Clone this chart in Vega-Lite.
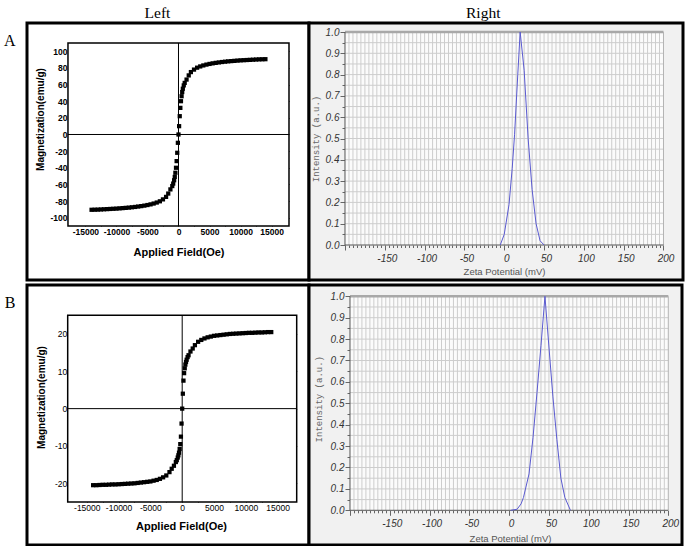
{
"$schema": "https://vega.github.io/schema/vega-lite/v6.json",
"padding": {"left": 1, "top": 4, "right": 0, "bottom": 0},
"background": "white",
"config": {"view": {"stroke": null}},
"datasets": {
"magA": [
{"H":-14000,"M":-90.5},{"H":-13500,"M":-90.4},{"H":-13000,"M":-90.3},{"H":-12500,"M":-90.1},{"H":-12000,"M":-89.9},{"H":-11500,"M":-89.7},{"H":-11000,"M":-89.5},{"H":-10500,"M":-89.3},{"H":-10000,"M":-89.1},{"H":-9500,"M":-88.8},{"H":-9000,"M":-88.5},{"H":-8500,"M":-88.2},{"H":-8000,"M":-87.9},{"H":-7500,"M":-87.5},{"H":-7000,"M":-87.1},{"H":-6500,"M":-86.6},{"H":-6000,"M":-86.1},{"H":-5500,"M":-85.5},{"H":-5000,"M":-84.8},{"H":-4500,"M":-84},{"H":-4000,"M":-83},{"H":-3500,"M":-81.8},{"H":-3000,"M":-80.3},{"H":-2500,"M":-78},{"H":-2000,"M":-75},{"H":-1650,"M":-71},{"H":-1300,"M":-66},{"H":-1000,"M":-62},{"H":-850,"M":-59},{"H":-700,"M":-55},{"H":-600,"M":-51},{"H":-500,"M":-46},{"H":-400,"M":-40},{"H":-300,"M":-32},{"H":-200,"M":-22},{"H":-100,"M":-10},{"H":0,"M":0},
{"H":100,"M":10},{"H":200,"M":22},{"H":300,"M":32},{"H":400,"M":40},{"H":500,"M":46},{"H":600,"M":51},{"H":700,"M":55},{"H":850,"M":59},{"H":1000,"M":62},{"H":1300,"M":66},{"H":1650,"M":71},{"H":2000,"M":75},{"H":2500,"M":78},{"H":3000,"M":80.3},{"H":3500,"M":81.8},{"H":4000,"M":83},{"H":4500,"M":84},{"H":5000,"M":84.8},{"H":5500,"M":85.5},{"H":6000,"M":86.1},{"H":6500,"M":86.6},{"H":7000,"M":87.1},{"H":7500,"M":87.5},{"H":8000,"M":87.9},{"H":8500,"M":88.2},{"H":9000,"M":88.5},{"H":9500,"M":88.8},{"H":10000,"M":89.1},{"H":10500,"M":89.3},{"H":11000,"M":89.5},{"H":11500,"M":89.7},{"H":12000,"M":89.9},{"H":12500,"M":90.1},{"H":13000,"M":90.3},{"H":13500,"M":90.4},{"H":14000,"M":90.5}
],
"magB": [
{"H":-14000,"M":-20.5},{"H":-13500,"M":-20.5},{"H":-13000,"M":-20.45},{"H":-12500,"M":-20.4},{"H":-12000,"M":-20.4},{"H":-11500,"M":-20.35},{"H":-11000,"M":-20.3},{"H":-10500,"M":-20.3},{"H":-10000,"M":-20.25},{"H":-9500,"M":-20.2},{"H":-9000,"M":-20.15},{"H":-8500,"M":-20.1},{"H":-8000,"M":-20.05},{"H":-7500,"M":-20},{"H":-7000,"M":-19.9},{"H":-6500,"M":-19.8},{"H":-6000,"M":-19.7},{"H":-5500,"M":-19.6},{"H":-5000,"M":-19.5},{"H":-4500,"M":-19.3},{"H":-4000,"M":-19.1},{"H":-3500,"M":-18.8},{"H":-3000,"M":-18.4},{"H":-2500,"M":-17.9},{"H":-2000,"M":-17},{"H":-1650,"M":-16.1},{"H":-1300,"M":-15.3},{"H":-1000,"M":-14.3},{"H":-850,"M":-13.8},{"H":-700,"M":-13.1},{"H":-600,"M":-12.5},{"H":-500,"M":-11.8},{"H":-400,"M":-10.8},{"H":-300,"M":-9.5},{"H":-200,"M":-7.5},{"H":-100,"M":-4},{"H":0,"M":0},
{"H":100,"M":4},{"H":200,"M":7.5},{"H":300,"M":9.5},{"H":400,"M":10.8},{"H":500,"M":11.8},{"H":600,"M":12.5},{"H":700,"M":13.1},{"H":850,"M":13.8},{"H":1000,"M":14.3},{"H":1300,"M":15.3},{"H":1650,"M":16.1},{"H":2000,"M":17},{"H":2500,"M":17.9},{"H":3000,"M":18.4},{"H":3500,"M":18.8},{"H":4000,"M":19.1},{"H":4500,"M":19.3},{"H":5000,"M":19.5},{"H":5500,"M":19.6},{"H":6000,"M":19.7},{"H":6500,"M":19.8},{"H":7000,"M":19.9},{"H":7500,"M":20},{"H":8000,"M":20.05},{"H":8500,"M":20.1},{"H":9000,"M":20.15},{"H":9500,"M":20.2},{"H":10000,"M":20.25},{"H":10500,"M":20.3},{"H":11000,"M":20.3},{"H":11500,"M":20.35},{"H":12000,"M":20.4},{"H":12500,"M":20.4},{"H":13000,"M":20.45},{"H":13500,"M":20.5},{"H":14000,"M":20.5}
],
"zetaA": [
{"mV":-5,"I":0},{"mV":0,"I":0.05},{"mV":6,"I":0.19},{"mV":10,"I":0.36},{"mV":13,"I":0.52},{"mV":17,"I":0.8},{"mV":20,"I":1.0},{"mV":25,"I":0.82},{"mV":30,"I":0.5},{"mV":35,"I":0.26},{"mV":40,"I":0.1},{"mV":45,"I":0.02},{"mV":50,"I":0}
],
"zetaB": [
{"mV":2,"I":0},{"mV":10,"I":0.005},{"mV":15,"I":0.03},{"mV":18,"I":0.06},{"mV":25,"I":0.17},{"mV":30,"I":0.34},{"mV":35,"I":0.55},{"mV":40,"I":0.77},{"mV":45,"I":1.0},{"mV":49,"I":0.81},{"mV":55,"I":0.53},{"mV":60,"I":0.33},{"mV":65,"I":0.15},{"mV":70,"I":0.06},{"mV":77,"I":0}
],
"gx": [
{"v":-195},{"v":-190},{"v":-185},{"v":-180},{"v":-175},{"v":-170},{"v":-165},{"v":-160},{"v":-155},{"v":-150},{"v":-145},{"v":-140},{"v":-135},{"v":-130},{"v":-125},{"v":-120},{"v":-115},{"v":-110},{"v":-105},{"v":-100},{"v":-95},{"v":-90},{"v":-85},{"v":-80},{"v":-75},{"v":-70},{"v":-65},{"v":-60},{"v":-55},{"v":-50},{"v":-45},{"v":-40},{"v":-35},{"v":-30},{"v":-25},{"v":-20},{"v":-15},{"v":-10},{"v":-5},{"v":0},{"v":5},{"v":10},{"v":15},{"v":20},{"v":25},{"v":30},{"v":35},{"v":40},{"v":45},{"v":50},{"v":55},{"v":60},{"v":65},{"v":70},{"v":75},{"v":80},{"v":85},{"v":90},{"v":95},{"v":100},{"v":105},{"v":110},{"v":115},{"v":120},{"v":125},{"v":130},{"v":135},{"v":140},{"v":145},{"v":150},{"v":155},{"v":160},{"v":165},{"v":170},{"v":175},{"v":180},{"v":185},{"v":190},{"v":195}
],
"gy": [
{"v":0.05},{"v":0.1},{"v":0.15},{"v":0.2},{"v":0.25},{"v":0.3},{"v":0.35},{"v":0.4},{"v":0.45},{"v":0.5},{"v":0.55},{"v":0.6},{"v":0.65},{"v":0.7},{"v":0.75},{"v":0.8},{"v":0.85},{"v":0.9},{"v":0.95}
]
},
"columns": 2,
"spacing": {"row": 5, "column": 0},
"bounds": "flush",
"concat": [
{
"width": 282, "height": 257,
"view": {"stroke": "black", "strokeWidth": 3, "fill": "white"},
"resolve": {"axis": {"x": "independent", "y": "independent"}},
"layer": [
{
"data": {"values": [{}]},
"mark": {"type": "rect", "fill": "white", "stroke": "black", "strokeWidth": 1.5},
"encoding": {
"x": {"datum": -17800, "type": "quantitative", "scale": {"domain": [-24400, 21022], "nice": false, "zero": false},
"axis": {"orient": "bottom", "offset": -54, "domain": false, "grid": false, "values": [-15000,-12500,-10000,-7500,-5000,-2500,0,2500,5000,7500,10000,12500,15000], "tickSize": -4, "tickColor": "black", "labelExpr": "datum.value % 5000 === 0 ? '' + datum.value : ''", "labelFont": "Liberation Sans Narrow, Liberation Sans", "labelFontWeight": "bold", "labelFontSize": 8.5, "labelColor": "black", "labelPadding": 5, "labelFlush": false, "labelOverlap": false, "title": "Applied Field(Oe)", "titleFont": "Liberation Sans Narrow, Liberation Sans", "titleFontWeight": "bold", "titleFontSize": 11, "titleColor": "black", "titleX": 151.5, "titleY": 29, "titleBaseline": "alphabetic", "titleAlign": "center"}},
"x2": {"datum": 17800},
"y": {"datum": -110, "type": "quantitative", "scale": {"domain": [-174.9, 134], "nice": false, "zero": false},
"axis": {"orient": "left", "offset": -41, "domain": false, "grid": false, "values": [-100,-90,-80,-70,-60,-50,-40,-30,-20,-10,0,10,20,30,40,50,60,70,80,90,100], "tickSize": -4, "tickColor": "black", "labelExpr": "datum.value % 20 === 0 ? '' + datum.value : ''", "labelFont": "Liberation Sans Narrow, Liberation Sans", "labelFontWeight": "bold", "labelFontSize": 8.5, "labelColor": "black", "labelPadding": 5, "labelFlush": false, "labelOverlap": false, "title": "Magnetization(emu/g)", "titleFont": "Liberation Sans Narrow, Liberation Sans", "titleFontWeight": "bold", "titleFontSize": 10, "titleColor": "black", "titleX": -28, "titleY": 96, "titleAngle": -90, "titleBaseline": "middle", "titleAlign": "center"}},
"y2": {"datum": 110}
}
},
{
"data": {"values": [{}]},
"mark": {"type": "rule", "color": "black", "strokeWidth": 1},
"encoding": {"x": {"datum": 0, "type": "quantitative", "axis": null}, "y": {"datum": -110, "type": "quantitative", "axis": null}, "y2": {"datum": 110}}
},
{
"data": {"values": [{}]},
"mark": {"type": "rule", "color": "black", "strokeWidth": 1},
"encoding": {"y": {"datum": 0, "type": "quantitative", "axis": null}, "x": {"datum": -17800, "type": "quantitative", "axis": null}, "x2": {"datum": 17800}}
},
{
"data": {"name": "magA"},
"mark": {"type": "point", "shape": "square", "filled": true, "color": "black", "size": 18, "opacity": 1},
"encoding": {
"x": {"field": "H", "type": "quantitative", "axis": {"orient": "top", "offset": -20, "domain": false, "grid": false, "labels": false, "tickSize": -4, "tickColor": "black", "values": [-15000,-10000,-5000,0,5000,10000,15000], "title": "Left", "titleFont": "Liberation Serif", "titleFontSize": 15.5, "titleFontWeight": "normal", "titleColor": "black", "titleX": 130, "titleY": -25.5, "titleAlign": "center", "titleBaseline": "alphabetic", "titleAngle": 0}},
"y": {"field": "M", "type": "quantitative", "axis": {"orient": "right", "offset": -20, "domain": false, "grid": false, "labels": false, "tickSize": -4, "tickColor": "black", "values": [-100,-80,-60,-40,-20,0,20,40,60,80,100], "title": "A", "titleFont": "Liberation Serif", "titleFontSize": 16, "titleFontWeight": "normal", "titleColor": "black", "titleX": -274, "titleY": 22, "titleAlign": "right", "titleBaseline": "alphabetic", "titleAngle": 0}}
}
}
]
},
{
"width": 374, "height": 257,
"view": {"stroke": "black", "strokeWidth": 3, "fill": "#f1f1f1"},
"resolve": {"axis": {"x": "independent", "y": "independent"}},
"layer": [
{
"data": {"values": [{}]},
"mark": {"type": "rect", "fill": "#fbfbfb"},
"encoding": {
"x": {"datum": -200, "type": "quantitative", "scale": {"domain": [-245.2, 224.5], "nice": false, "zero": false},
"axis": {"orient": "bottom", "offset": -35, "domain": false, "grid": false, "values": [-200,-195,-190,-185,-180,-175,-170,-165,-160,-155,-150,-145,-140,-135,-130,-125,-120,-115,-110,-105,-100,-95,-90,-85,-80,-75,-70,-65,-60,-55,-50,-45,-40,-35,-30,-25,-20,-15,-10,-5,0,5,10,15,20,25,30,35,40,45,50,55,60,65,70,75,80,85,90,95,100,105,110,115,120,125,130,135,140,145,150,155,160,165,170,175,180,185,190,195,200], "tickSize": {"condition": {"test": "datum.value % 50 === 0", "value": 5}, "value": 2.5}, "tickColor": "#666", "labelExpr": "datum.value % 50 === 0 && datum.value > -200 ? '' + datum.value : ''", "labelFont": "Liberation Sans", "labelFontStyle": "italic", "labelFontSize": 10, "labelColor": "#333", "labelPadding": 3, "labelOffset": 2, "labelFlush": false, "labelOverlap": false, "title": "Zeta Potential (mV)", "titleFont": "Liberation Sans", "titleFontSize": 9.5, "titleFontWeight": "normal", "titleColor": "#555", "titleX": 195, "titleY": 29.5, "titleBaseline": "alphabetic", "titleAlign": "center"}},
"x2": {"datum": 200},
"y": {"datum": 0, "type": "quantitative", "scale": {"domain": [-0.1643, 1.0423], "nice": false, "zero": false},
"axis": {"orient": "left", "offset": -36, "domain": false, "grid": false, "values": [0,0.05,0.1,0.15,0.2,0.25,0.3,0.35,0.4,0.45,0.5,0.55,0.6,0.65,0.7,0.75,0.8,0.85,0.9,0.95,1], "tickSize": {"condition": {"test": "abs(datum.value*10 - round(datum.value*10)) < 0.001", "value": 5}, "value": 3}, "tickColor": "#666", "labelExpr": "abs(datum.value*10 - round(datum.value*10)) < 0.001 ? format(datum.value, '.1f') : ''", "labelFont": "Liberation Sans", "labelFontStyle": "italic", "labelFontSize": 10, "labelColor": "#333", "labelPadding": 1, "labelFlush": false, "labelOverlap": false, "title": "Intensity (a.u.)", "titleFont": "Liberation Mono", "titleFontSize": 9, "titleFontWeight": "normal", "titleColor": "#666", "titleX": -29.3, "titleY": 115.5, "titleAngle": -90, "titleBaseline": "middle", "titleAlign": "center"}},
"y2": {"datum": 1}
}
},
{
"data": {"name": "gx"},
"mark": {"type": "rule", "color": "#cdcdcd", "strokeWidth": 1},
"encoding": {"x": {"field": "v", "type": "quantitative", "axis": null}, "y": {"datum": 0, "type": "quantitative", "axis": null}, "y2": {"datum": 1}}
},
{
"data": {"name": "gy"},
"mark": {"type": "rule", "color": "#cdcdcd", "strokeWidth": 1},
"encoding": {"y": {"field": "v", "type": "quantitative", "axis": null}, "x": {"datum": -200, "type": "quantitative", "axis": null}, "x2": {"datum": 200}}
},
{
"data": {"values": [{}]},
"mark": {"type": "rule", "color": "#a8a8a8", "strokeWidth": 2.5},
"encoding": {"y": {"datum": 1, "type": "quantitative", "axis": null}, "x": {"datum": -200, "type": "quantitative", "axis": {"orient": "top", "domain": false, "grid": false, "labels": false, "ticks": false, "title": "Right", "titleFont": "Liberation Serif", "titleFontSize": 15.5, "titleFontWeight": "normal", "titleColor": "black", "titleX": 173.7, "titleY": -5.5, "titleAlign": "center", "titleBaseline": "alphabetic", "titleAngle": 0}}, "x2": {"datum": 200}}
},
{
"data": {"values": [{}]},
"mark": {"type": "rule", "color": "#b4b4b4", "strokeWidth": 1},
"encoding": {"x": {"datum": 200, "type": "quantitative", "axis": null}, "y": {"datum": 0, "type": "quantitative", "axis": null}, "y2": {"datum": 1}}
},
{
"data": {"values": [{}]},
"mark": {"type": "rule", "color": "#555", "strokeWidth": 1},
"encoding": {"x": {"datum": -200, "type": "quantitative", "axis": null}, "y": {"datum": 0, "type": "quantitative", "axis": null}, "y2": {"datum": 1}}
},
{
"data": {"values": [{}]},
"mark": {"type": "rule", "color": "#555", "strokeWidth": 1},
"encoding": {"y": {"datum": 0, "type": "quantitative", "axis": null}, "x": {"datum": -200, "type": "quantitative", "axis": null}, "x2": {"datum": 200}}
},
{
"data": {"name": "zetaA"},
"mark": {"type": "line", "color": "#5a5ad0", "strokeWidth": 1},
"encoding": {"x": {"field": "mV", "type": "quantitative", "axis": null}, "y": {"field": "I", "type": "quantitative", "axis": null}}
}
]
},
{
"width": 282, "height": 260,
"view": {"stroke": "black", "strokeWidth": 3, "fill": "white"},
"resolve": {"axis": {"x": "independent", "y": "independent"}},
"layer": [
{
"data": {"values": [{}]},
"mark": {"type": "rect", "fill": "white", "stroke": "black", "strokeWidth": 1.5},
"encoding": {
"x": {"datum": -18000, "type": "quantitative", "scale": {"domain": [-24398, 19934], "nice": false, "zero": false},
"axis": {"orient": "bottom", "offset": -43, "domain": false, "grid": false, "values": [-15000,-12500,-10000,-7500,-5000,-2500,0,2500,5000,7500,10000,12500,15000], "tickSize": -4, "tickColor": "black", "labelExpr": "datum.value % 5000 === 0 ? '' + datum.value : ''", "labelFont": "Liberation Sans Narrow, Liberation Sans", "labelFontWeight": "normal", "labelFontSize": 8.5, "labelColor": "black", "labelPadding": 5, "labelFlush": false, "labelOverlap": false, "title": "Applied Field(Oe)", "titleFont": "Liberation Sans Narrow, Liberation Sans", "titleFontWeight": "bold", "titleFontSize": 11, "titleColor": "black", "titleX": 154, "titleY": 27, "titleBaseline": "alphabetic", "titleAlign": "center"}},
"x2": {"datum": 18000},
"y": {"datum": -25, "type": "quantitative", "scale": {"domain": [-36.52, 33.11], "nice": false, "zero": false},
"axis": {"orient": "left", "offset": -40.7, "domain": false, "grid": false, "values": [-20,-15,-10,-5,0,5,10,15,20], "tickSize": -4, "tickColor": "black", "labelExpr": "datum.value % 10 === 0 ? '' + datum.value : ''", "labelFont": "Liberation Sans Narrow, Liberation Sans", "labelFontWeight": "normal", "labelFontSize": 8.5, "labelColor": "black", "labelPadding": 5, "labelFlush": false, "labelOverlap": false, "title": "Magnetization(emu/g)", "titleFont": "Liberation Sans Narrow, Liberation Sans", "titleFontWeight": "bold", "titleFontSize": 10, "titleColor": "black", "titleX": -26, "titleY": 112, "titleAngle": -90, "titleBaseline": "middle", "titleAlign": "center"}},
"y2": {"datum": 25}
}
},
{
"data": {"values": [{}]},
"mark": {"type": "rule", "color": "black", "strokeWidth": 1},
"encoding": {"x": {"datum": 0, "type": "quantitative", "axis": null}, "y": {"datum": -25, "type": "quantitative", "axis": null}, "y2": {"datum": 25}}
},
{
"data": {"values": [{}]},
"mark": {"type": "rule", "color": "black", "strokeWidth": 1},
"encoding": {"y": {"datum": 0, "type": "quantitative", "axis": null}, "x": {"datum": -18000, "type": "quantitative", "axis": null}, "x2": {"datum": 18000}}
},
{
"data": {"name": "magB"},
"mark": {"type": "point", "shape": "square", "filled": true, "color": "black", "size": 18, "opacity": 1},
"encoding": {
"x": {"field": "H", "type": "quantitative", "axis": {"orient": "top", "offset": -30.3, "domain": false, "grid": false, "labels": false, "title": null, "tickSize": -4, "tickColor": "black", "values": [-15000,-10000,-5000,0,5000,10000,15000]}},
"y": {"field": "M", "type": "quantitative", "axis": {"orient": "right", "offset": -12.3, "domain": false, "grid": false, "labels": false, "tickSize": -4, "tickColor": "black", "values": [-20,-10,0,10,20], "title": "B", "titleFont": "Liberation Serif", "titleFontSize": 16, "titleFontWeight": "normal", "titleColor": "black", "titleX": -281.7, "titleY": 22, "titleAlign": "right", "titleBaseline": "alphabetic", "titleAngle": 0}}
}
}
]
},
{
"width": 373, "height": 260,
"view": {"stroke": "black", "strokeWidth": 3, "fill": "#f1f1f1"},
"resolve": {"axis": {"x": "independent", "y": "independent"}},
"layer": [
{
"data": {"values": [{}]},
"mark": {"type": "rect", "fill": "#fbfbfb"},
"encoding": {
"x": {"datum": -200, "type": "quantitative", "scale": {"domain": [-251.5, 217.2], "nice": false, "zero": false},
"axis": {"orient": "bottom", "offset": -34.7, "domain": false, "grid": false, "values": [-200,-195,-190,-185,-180,-175,-170,-165,-160,-155,-150,-145,-140,-135,-130,-125,-120,-115,-110,-105,-100,-95,-90,-85,-80,-75,-70,-65,-60,-55,-50,-45,-40,-35,-30,-25,-20,-15,-10,-5,0,5,10,15,20,25,30,35,40,45,50,55,60,65,70,75,80,85,90,95,100,105,110,115,120,125,130,135,140,145,150,155,160,165,170,175,180,185,190,195,200], "tickSize": {"condition": {"test": "datum.value % 50 === 0", "value": 5}, "value": 2.5}, "tickColor": "#666", "labelExpr": "datum.value % 50 === 0 && datum.value > -200 ? '' + datum.value : ''", "labelFont": "Liberation Sans", "labelFontStyle": "italic", "labelFontSize": 10, "labelColor": "#333", "labelPadding": 3, "labelOffset": 2, "labelFlush": false, "labelOverlap": false, "title": "Zeta Potential (mV)", "titleFont": "Liberation Sans", "titleFontSize": 9.5, "titleFontWeight": "normal", "titleColor": "#555", "titleX": 201, "titleY": 31, "titleBaseline": "alphabetic", "titleAlign": "center"}},
"x2": {"datum": 200},
"y": {"datum": 0, "type": "quantitative", "scale": {"domain": [-0.1622, 1.0528], "nice": false, "zero": false},
"axis": {"orient": "left", "offset": -41, "domain": false, "grid": false, "values": [0,0.05,0.1,0.15,0.2,0.25,0.3,0.35,0.4,0.45,0.5,0.55,0.6,0.65,0.7,0.75,0.8,0.85,0.9,0.95,1], "tickSize": {"condition": {"test": "abs(datum.value*10 - round(datum.value*10)) < 0.001", "value": 5}, "value": 3}, "tickColor": "#666", "labelExpr": "abs(datum.value*10 - round(datum.value*10)) < 0.001 ? format(datum.value, '.1f') : ''", "labelFont": "Liberation Sans", "labelFontStyle": "italic", "labelFontSize": 10, "labelColor": "#333", "labelPadding": 1, "labelFlush": false, "labelOverlap": false, "title": "Intensity (a.u.)", "titleFont": "Liberation Mono", "titleFontSize": 9, "titleFontWeight": "normal", "titleColor": "#666", "titleX": -31.7, "titleY": 113.7, "titleAngle": -90, "titleBaseline": "middle", "titleAlign": "center"}},
"y2": {"datum": 1}
}
},
{
"data": {"name": "gx"},
"mark": {"type": "rule", "color": "#cdcdcd", "strokeWidth": 1},
"encoding": {"x": {"field": "v", "type": "quantitative", "axis": null}, "y": {"datum": 0, "type": "quantitative", "axis": null}, "y2": {"datum": 1}}
},
{
"data": {"name": "gy"},
"mark": {"type": "rule", "color": "#cdcdcd", "strokeWidth": 1},
"encoding": {"y": {"field": "v", "type": "quantitative", "axis": null}, "x": {"datum": -200, "type": "quantitative", "axis": null}, "x2": {"datum": 200}}
},
{
"data": {"values": [{}]},
"mark": {"type": "rule", "color": "#a8a8a8", "strokeWidth": 2.5},
"encoding": {"y": {"datum": 1, "type": "quantitative", "axis": null}, "x": {"datum": -200, "type": "quantitative", "axis": null}, "x2": {"datum": 200}}
},
{
"data": {"values": [{}]},
"mark": {"type": "rule", "color": "#b4b4b4", "strokeWidth": 1},
"encoding": {"x": {"datum": 200, "type": "quantitative", "axis": null}, "y": {"datum": 0, "type": "quantitative", "axis": null}, "y2": {"datum": 1}}
},
{
"data": {"values": [{}]},
"mark": {"type": "rule", "color": "#555", "strokeWidth": 1},
"encoding": {"x": {"datum": -200, "type": "quantitative", "axis": null}, "y": {"datum": 0, "type": "quantitative", "axis": null}, "y2": {"datum": 1}}
},
{
"data": {"values": [{}]},
"mark": {"type": "rule", "color": "#555", "strokeWidth": 1},
"encoding": {"y": {"datum": 0, "type": "quantitative", "axis": null}, "x": {"datum": -200, "type": "quantitative", "axis": null}, "x2": {"datum": 200}}
},
{
"data": {"name": "zetaB"},
"mark": {"type": "line", "color": "#5a5ad0", "strokeWidth": 1},
"encoding": {"x": {"field": "mV", "type": "quantitative", "axis": null}, "y": {"field": "I", "type": "quantitative", "axis": null}}
}
]
}
]
}
